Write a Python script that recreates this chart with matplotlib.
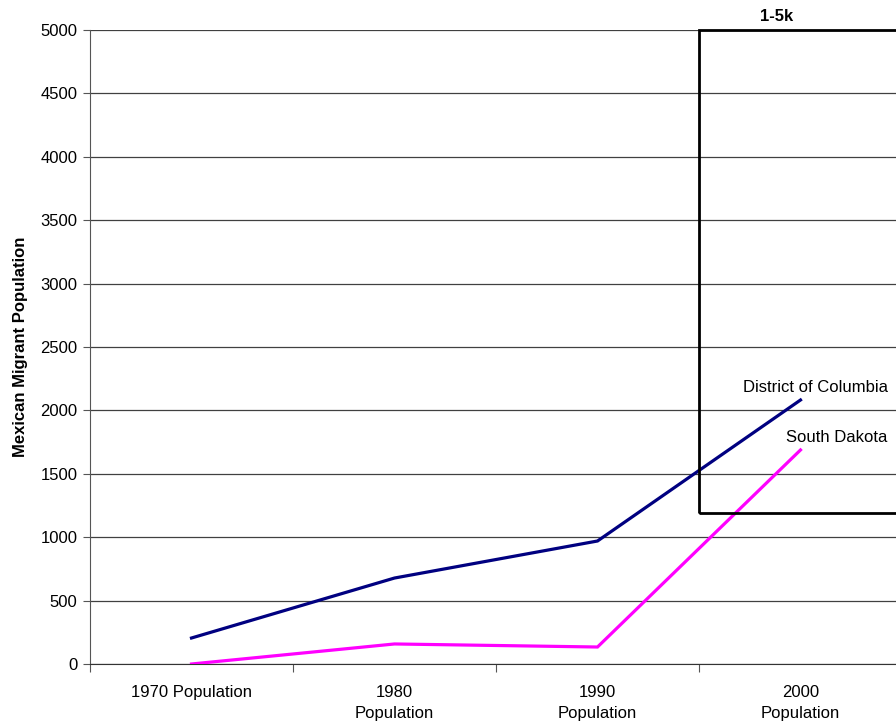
import matplotlib
matplotlib.use("Agg")
import matplotlib.pyplot as plt
from matplotlib.patches import Rectangle

plt.rcParams["font.family"] = ["Liberation Sans", "DejaVu Sans"]

# ---------------------------------------------------------------- data
categories = ["1970 Population", "1980\nPopulation", "1990\nPopulation", "2000\nPopulation"]
dc_values = [205, 678, 970, 2082]
sd_values = [0, 158, 134, 1688]
series_names = ["District of Columbia", "South Dakota"]
box_label = "1-5k"
box_low, box_high = 1190, 5000

fig = plt.figure(figsize=(8.96, 7.25), dpi=100)
# axes runs a little past the right edge of the canvas
ax = fig.add_axes([90 / 896, 61 / 725, 812 / 896, 634 / 725])

x = list(range(len(categories)))
ax.plot(x, dc_values, color="#000080", lw=2.3, solid_joinstyle="miter", zorder=3)
ax.plot(x, sd_values, color="#FF00FF", lw=2.3, solid_joinstyle="miter", zorder=3)

ax.set_xlim(-0.5, len(categories) - 0.5)
ax.set_ylim(0, 5000)
ax.set_yticks(range(0, 5001, 500))
ax.yaxis.grid(True, color="#404040", lw=0.9)
ax.set_axisbelow(True)

# category labels between boundary ticks
ax.set_xticks([i - 0.5 for i in range(len(categories) + 1)])
ax.set_xticklabels([])
ax.set_xticks(x, minor=True)
ax.set_xticklabels(categories, minor=True, fontsize=12, linespacing=1.55)
ax.tick_params(axis="x", which="minor", length=0, pad=15)
ax.tick_params(axis="x", which="major", length=6, color="#555555", direction="out")
ax.tick_params(axis="y", length=5, color="#555555", labelsize=12, pad=4)
for lbl in ax.get_xticklabels(minor=True):
    lbl.set_verticalalignment("top")

for side in ("top", "right"):
    ax.spines[side].set_visible(False)
ax.spines["left"].set_color("#555555")
ax.spines["bottom"].set_color("#333333")

ax.set_ylabel("Mexican Migrant Population", fontsize=12, fontweight="bold", labelpad=9)

# range box with its label
ax.add_patch(Rectangle((2.5, box_low), 1.2, box_high - box_low, fill=False,
                       edgecolor="black", lw=2, zorder=4, clip_on=False))
ax.text(2.88, box_high + 45, box_label, ha="center", va="bottom",
        fontsize=12, fontweight="bold")

# series labels at the line ends
for name, vals in zip(series_names, [dc_values, sd_values]):
    ax.annotate(name, (x[-1], vals[-1]), xytext=(87, 5), textcoords="offset pixels",
                ha="right", va="bottom", fontsize=12)

fig.savefig("out.png", dpi=100)
